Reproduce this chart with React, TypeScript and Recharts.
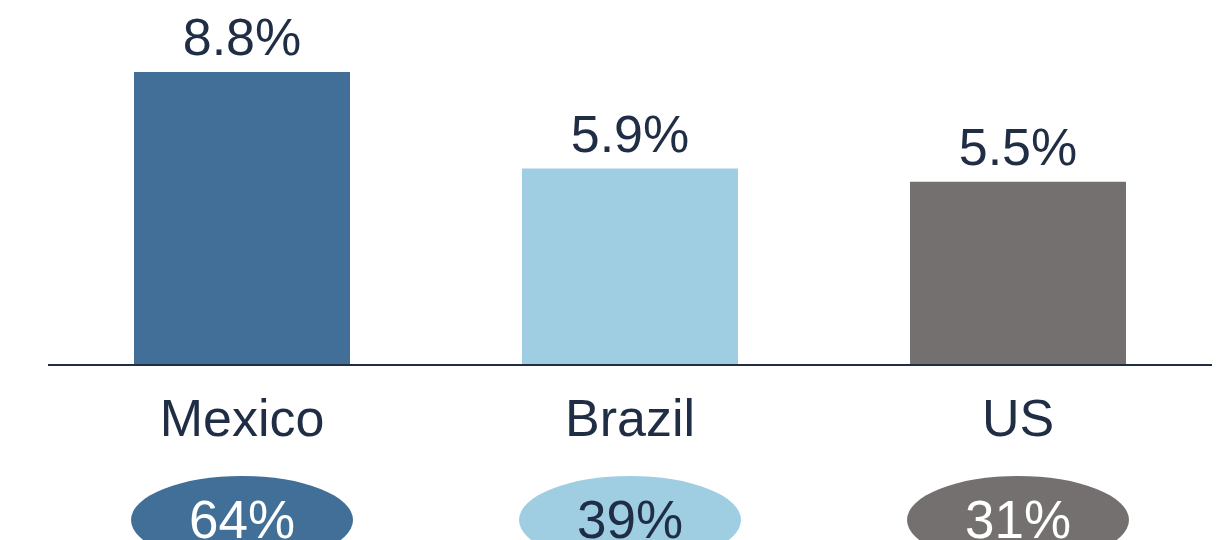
import { BarChart, Bar, XAxis, YAxis, Cell, LabelList } from 'recharts';

const countries = ['Mexico', 'Brazil', 'US'];
const growth = [8.8, 5.9, 5.5];
const shares = ['64%', '39%', '31%'];
const barColors = ['#426f97', '#9fcee3', '#747070'];
const shareTextColors = ['#ffffff', '#1f2d45', '#ffffff'];

const data = countries.map((name, i) => ({ name, growth: growth[i], share: shares[i] }));

const FONT = '"Liberation Sans", Arial, Helvetica, sans-serif';
const INK = '#1f2d45';

function CountryTick(props: any) {
  const { x, y, index } = props;
  const base = y; // axis line position
  return (
    <g>
      <text x={x} y={base + 71} textAnchor="middle" fontSize={52} fontFamily={FONT} fill={INK}>
        {countries[index]}
      </text>
      <ellipse cx={x} cy={base + 155} rx={111} ry={44} fill={barColors[index]} />
      <text x={x} y={base + 173} textAnchor="middle" fontSize={53} fontFamily={FONT} fill={shareTextColors[index]}>
        {shares[index]}
      </text>
    </g>
  );
}

export default function App() {
  return (
    <div style={{ position: 'absolute', left: 0, top: 0, width: 1220, height: 540, background: '#fff' }}>
      <BarChart width={1220} height={540} data={data} margin={{ top: 32, right: 8, left: 48, bottom: 0 }}>
        <YAxis hide domain={[0, 10]} />
        <XAxis
          dataKey="name"
          height={175}
          axisLine={{ stroke: INK, strokeWidth: 2 }}
          tickLine={false}
          tickSize={0}
          tickMargin={0}
          interval={0}
          tick={<CountryTick />}
        />
        <Bar dataKey="growth" barSize={216} isAnimationActive={false}>
          {data.map((d, i) => (
            <Cell key={d.name} fill={barColors[i]} />
          ))}
          <LabelList
            dataKey="growth"
            position="top"
            offset={17}
            formatter={(v: any) => `${Number(v).toFixed(1)}%`}
            style={{ fontSize: 52, fontFamily: FONT, fill: INK }}
          />
        </Bar>
      </BarChart>
    </div>
  );
}
